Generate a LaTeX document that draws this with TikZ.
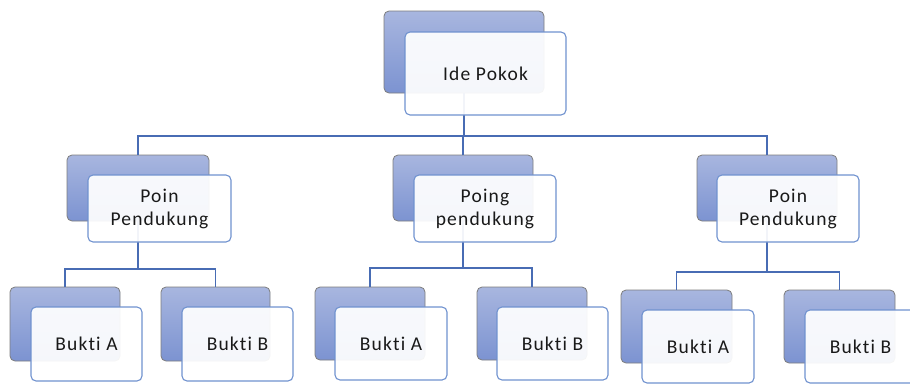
\documentclass[tikz,border=0pt]{standalone}
\usepackage{fontspec}
\setmainfont{Carlito}[LetterSpace=6,Ligatures={NoCommon,NoRequired,NoContextual}]
\definecolor{backtop}{RGB}{168,182,223}
\definecolor{backbot}{RGB}{124,147,209}
\definecolor{backline}{RGB}{125,125,125}
\definecolor{frontline}{RGB}{112,146,207}
\definecolor{connblue}{RGB}{72,108,180}
\definecolor{textcol}{RGB}{25,25,25}
\begin{document}
\begin{tikzpicture}[x=1pt,y=-1pt,
  backbox/.style={draw=backline, line width=0.8pt, rounded corners=5pt,
    top color=backtop, bottom color=backbot, inner sep=0pt, outer sep=0pt, anchor=north west},
  frontbox/.style={draw=frontline, line width=1.1pt, rounded corners=5pt,
    fill=white, fill opacity=0.93, text opacity=1, inner sep=0pt, outer sep=0pt,
    anchor=north west, align=center, font=\fontsize{19.5}{23}\selectfont, text=textcol},
  conn/.style={draw=connblue, line width=1.9pt}]
\useasboundingbox (0,0) rectangle (910,383);
\clip (0,0) rectangle (910,383);
% back boxes
\node[backbox, minimum width=160, minimum height=82] (r0b) at (384,11) {};
\node[backbox, minimum width=142, minimum height=66] (pLb) at (67,155) {};
\node[backbox, minimum width=140, minimum height=66] (pMb) at (393,155) {};
\node[backbox, minimum width=140, minimum height=66] (pRb) at (697,155) {};
\node[backbox, minimum width=110, minimum height=74] (aLb) at (10,287) {};
\node[backbox, minimum width=109, minimum height=74] (bLb) at (161,287) {};
\node[backbox, minimum width=110, minimum height=73] (aMb) at (315,287) {};
\node[backbox, minimum width=110, minimum height=73] (bMb) at (477,287) {};
\node[backbox, minimum width=111, minimum height=73] (aRb) at (621,290) {};
\node[backbox, minimum width=111, minimum height=73] (bRb) at (784,290) {};
% connectors
\coordinate (h0) at (0,136);
\coordinate (hL) at (0,269);
\coordinate (hM) at (0,268);
\coordinate (hR) at (0,272);
\draw[conn] (r0b.south) -- (r0b.south |- h0);
\draw[conn] (pLb.north) -- (pLb.north |- h0) -- (pRb.north |- h0) -- (pRb.north);
\draw[conn] (pMb.north) -- (pMb.north |- h0);
\draw[conn] (pLb.south) -- (pLb.south |- hL);
\draw[conn] (aLb.north) -- (aLb.north |- hL) -- (bLb.north |- hL) -- (bLb.north);
\draw[conn] (pMb.south) -- (pMb.south |- hM);
\draw[conn] (aMb.north) -- (aMb.north |- hM) -- (bMb.north |- hM) -- (bMb.north);
\draw[conn] (pRb.south) -- (pRb.south |- hR);
\draw[conn] (aRb.north) -- (aRb.north |- hR) -- (bRb.north |- hR) -- (bRb.north);
% front boxes
\node[frontbox, minimum width=161, minimum height=83] (r0f) at (405,32) {Ide Pokok};
\node[frontbox, minimum width=143, minimum height=67] (pLf) at (88,175) {Poin\\Pendukung};
\node[frontbox, minimum width=142, minimum height=67] (pMf) at (414,175) {Poing\\pendukung};
\node[frontbox, minimum width=142, minimum height=67] (pRf) at (717,175) {Poin\\Pendukung};
\node[frontbox, minimum width=111, minimum height=74] (aLf) at (31,307) {Bukti A};
\node[frontbox, minimum width=111, minimum height=74] (bLf) at (182,307) {Bukti B};
\node[frontbox, minimum width=112, minimum height=73] (aMf) at (335,307) {Bukti A};
\node[frontbox, minimum width=111, minimum height=73] (bMf) at (497,307) {Bukti B};
\node[frontbox, minimum width=112, minimum height=73] (aRf) at (642,310) {Bukti A};
\node[frontbox, minimum width=111, minimum height=73] (bRf) at (805,310) {Bukti B};
\end{tikzpicture}
\end{document}
